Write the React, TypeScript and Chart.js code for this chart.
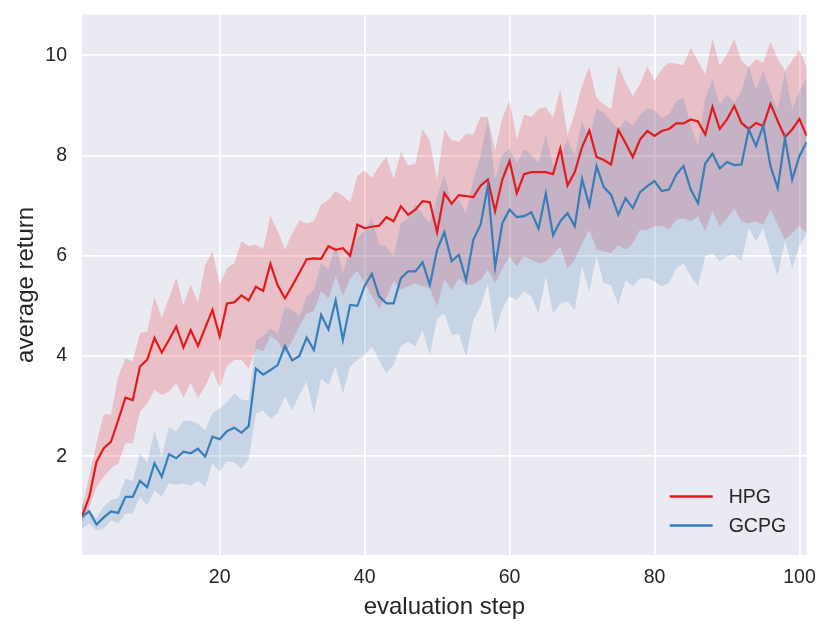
import { useEffect, useRef } from "react"
import { Chart, registerables } from "chart.js"

Chart.register(...registerables)

// evaluation steps 1..101
const steps = Array.from({ length: 101 }, (_, i) => i + 1)

const hpgMean = [
  0.8, 1.19, 1.89, 2.16, 2.29, 2.72, 3.17, 3.12, 3.79, 3.93,
  4.36, 4.07, 4.32, 4.59, 4.17, 4.52, 4.2, 4.56, 4.92, 4.39,
  5.05, 5.07, 5.21, 5.11, 5.38, 5.3, 5.84, 5.41, 5.15, 5.4,
  5.66, 5.93, 5.95, 5.94, 6.19, 6.12, 6.15, 6.0, 6.62, 6.55,
  6.58, 6.6, 6.77, 6.69, 6.99, 6.82, 6.92, 7.09, 7.07, 6.47,
  7.25, 7.04, 7.21, 7.19, 7.17, 7.4, 7.52, 6.89, 7.52, 7.89,
  7.25, 7.63, 7.67, 7.67, 7.67, 7.63, 8.14, 7.4, 7.67, 8.17,
  8.5, 7.97, 7.91, 7.82, 8.51, 8.25, 7.97, 8.32, 8.49, 8.39,
  8.49, 8.53, 8.64, 8.64, 8.72, 8.68, 8.42, 8.97, 8.53, 8.72,
  8.99, 8.65, 8.53, 8.65, 8.59, 9.03, 8.69, 8.37, 8.52, 8.73,
  8.39,
]
const hpgUpper = [
  0.99, 1.59, 2.26, 2.84, 2.84, 3.59, 3.96, 3.89, 4.46, 4.49,
  5.19, 4.76, 5.16, 5.56, 5.02, 5.42, 5.06, 5.82, 6.09, 5.42,
  5.75, 5.85, 6.29, 6.19, 6.22, 6.14, 6.8, 6.5, 6.13, 6.45,
  6.71, 6.65, 6.69, 7.02, 7.12, 7.29, 7.2, 7.07, 7.59, 7.7,
  7.55, 7.79, 7.97, 7.53, 8.07, 7.8, 7.84, 8.53, 8.29, 7.52,
  8.52, 8.31, 8.27, 8.44, 8.42, 8.77, 8.77, 8.09, 8.75, 9.1,
  8.32, 8.82, 8.77, 8.93, 8.97, 8.75, 9.33, 8.4, 8.85, 9.39,
  9.77, 9.15, 9.02, 8.92, 9.8, 9.45, 9.19, 9.42, 9.77, 9.5,
  9.73, 9.85, 9.83, 9.8, 10.15, 9.89, 9.62, 10.32, 9.79, 10.02,
  10.32, 9.89, 9.75, 9.92, 9.85, 10.27, 9.92, 9.69, 9.89, 10.11,
  9.75,
]
const hpgLower = [
  0.66, 0.99, 1.39, 1.59, 1.76, 1.86, 2.26, 2.26, 2.89, 3.06,
  3.32, 3.22, 3.29, 3.46, 3.16, 3.46, 3.16, 3.39, 3.72, 3.36,
  3.8, 3.92, 3.92, 3.75, 4.15, 4.1, 4.4, 4.3, 4.05, 4.3,
  4.6, 4.85, 4.9, 5.3, 5.15, 5.6, 5.2, 5.55, 5.7, 5.45,
  5.2, 4.95, 5.17, 5.49, 5.32, 5.39, 5.45, 5.39, 5.35, 4.99,
  5.52, 5.32, 5.55, 5.42, 5.42, 5.52, 5.72, 5.45, 5.75, 5.99,
  5.79, 5.99, 5.92, 5.85, 5.89, 6.02, 6.19, 5.75, 5.92, 6.25,
  6.52, 6.12, 6.09, 6.05, 6.22, 6.12, 6.25, 6.52, 6.52, 6.59,
  6.59, 6.52, 6.72, 6.75, 6.69, 6.79, 6.49, 6.89, 6.59, 6.75,
  6.95, 6.69, 6.65, 6.69, 6.62, 6.92, 6.62, 6.32, 6.45, 6.59,
  6.45,
]

const gcpgMean = [
  0.79, 0.9, 0.64, 0.78, 0.9, 0.87, 1.19, 1.19, 1.51, 1.38,
  1.86, 1.59, 2.04, 1.96, 2.09, 2.06, 2.15, 1.99, 2.39, 2.34,
  2.5, 2.57, 2.47, 2.6, 3.75, 3.63, 3.72, 3.82, 4.2, 3.91,
  4.0, 4.37, 4.12, 4.82, 4.53, 5.11, 4.32, 5.02, 5.0, 5.4,
  5.64, 5.19, 5.05, 5.05, 5.55, 5.69, 5.69, 5.87, 5.42, 6.12,
  6.47, 5.89, 6.02, 5.51, 6.32, 6.62, 7.39, 5.77, 6.65, 6.92,
  6.77, 6.79, 6.87, 6.54, 7.24, 6.41, 6.69, 6.85, 6.59, 7.53,
  7.0, 7.79, 7.37, 7.22, 6.82, 7.15, 6.95, 7.27, 7.39, 7.49,
  7.29, 7.32, 7.62, 7.79, 7.32, 7.05, 7.84, 8.04, 7.74, 7.87,
  7.81, 7.82, 8.52, 8.19, 8.6, 7.79, 7.35, 8.35, 7.52, 7.99,
  8.27,
]
const gcpgUpper = [
  1.06, 0.93, 0.77, 1.0, 1.13, 1.16, 1.56, 1.5, 2.07, 1.86,
  2.52, 1.99, 2.59, 2.49, 2.71, 2.71, 2.65, 2.52, 2.86, 2.96,
  3.08, 3.25, 3.13, 3.12, 4.32, 4.39, 4.55, 4.45, 4.99, 4.92,
  4.79, 5.19, 5.32, 5.85, 5.72, 6.22, 5.65, 6.12, 6.35, 6.5,
  6.75, 6.22, 6.19, 5.99, 6.65, 6.75, 7.05, 6.82, 6.65, 7.19,
  7.62, 7.05, 7.12, 6.85, 7.52, 7.99, 8.73, 7.52, 8.02, 8.14,
  7.85, 8.12, 8.02, 7.85, 8.42, 7.79, 7.99, 8.32, 7.99, 8.69,
  8.32, 8.95, 8.85, 8.69, 8.52, 8.72, 8.59, 8.82, 8.95, 8.9,
  8.75, 8.82, 9.09, 9.15, 8.59, 8.19, 9.15, 9.52, 9.02, 9.22,
  9.05, 9.29, 9.79, 9.32, 9.69, 9.29, 8.92, 9.69, 8.92, 9.29,
  9.55,
]
const gcpgLower = [
  0.56, 0.66, 0.52, 0.56, 0.72, 0.66, 0.86, 0.86, 1.19, 1.02,
  1.32, 1.19, 1.46, 1.43, 1.46, 1.41, 1.51, 1.39, 1.86, 1.69,
  1.9, 1.88, 1.75, 1.95, 2.85, 2.92, 2.75, 2.86, 3.19, 2.92,
  3.22, 3.49, 2.86, 3.55, 3.42, 3.79, 3.25, 3.79, 3.92, 4.02,
  4.19, 3.92, 3.65, 3.82, 4.19, 4.29, 4.19, 4.52, 4.02, 4.75,
  4.85, 4.42, 4.45, 3.99, 4.72, 4.99, 5.45, 4.45, 4.95, 5.19,
  5.12, 5.29, 5.19, 4.85, 5.59, 4.85, 5.05, 5.09, 4.92, 5.79,
  5.29, 5.99, 5.45, 5.42, 5.02, 5.52, 5.39, 5.55, 5.55, 5.49,
  5.39, 5.45, 5.75, 5.85, 5.59, 5.39, 5.99, 6.05, 5.89, 5.99,
  6.02, 5.89, 6.55, 6.29, 6.55, 6.05, 5.59, 6.32, 5.75, 6.19,
  6.45,
]

const xTicks = [20, 40, 60, 80, 100]
const yTicks = [2, 4, 6, 8, 10]

const RED = "#e41a1c"
const BLUE = "#377eb8"
const TEXT = "#262626"
const FONT = "'Liberation Sans', Arial, sans-serif"

const pts = (ys: number[]) => ys.map((y, i) => ({ x: steps[i], y }))

// seaborn-like grey plot background
const bgPlugin = {
  id: "plotBg",
  beforeDraw(chart: any) {
    const { ctx, chartArea } = chart
    ctx.save()
    ctx.fillStyle = "#eaeaf2"
    ctx.fillRect(chartArea.left, chartArea.top, chartArea.right - chartArea.left, chartArea.bottom - chartArea.top)
    ctx.restore()
  },
}

// legend drawn inside the plot, lower right
const insideLegend = {
  id: "insideLegend",
  afterDraw(chart: any) {
    const { ctx, chartArea } = chart
    const items = chart.data.datasets.filter((d: any) => d.label)
    ctx.save()
    ctx.font = `19.5px ${FONT}`
    ctx.textBaseline = "middle"
    ctx.textAlign = "left"
    items.forEach((d: any, i: number) => {
      const y = chartArea.bottom - 58.5 + i * 29
      ctx.strokeStyle = d.borderColor
      ctx.lineWidth = 2.6
      ctx.beginPath()
      ctx.moveTo(chartArea.right - 137, y)
      ctx.lineTo(chartArea.right - 94, y)
      ctx.stroke()
      ctx.fillStyle = TEXT
      ctx.fillText(d.label, chartArea.right - 78, y + 1)
    })
    ctx.restore()
  },
}

export default function App() {
  const chartRef = useRef<HTMLCanvasElement>(null)
  const chartInstance = useRef<Chart | null>(null)

  useEffect(() => {
    if (!chartRef.current) return
    if (chartInstance.current) chartInstance.current.destroy()
    const ctx = chartRef.current.getContext("2d")
    if (!ctx) return

    const band = { borderWidth: 0, pointRadius: 0, tension: 0 }
    const line = { borderWidth: 2.2, pointRadius: 0, tension: 0, fill: false }

    // lines above both bands (lower order is drawn on top)
    const config: any = {
      type: "line",
      data: {
        datasets: [
          { ...line, label: "HPG", data: pts(hpgMean), borderColor: RED, order: 2 },
          { ...band, data: pts(hpgLower), fill: false, order: 4 },
          { ...band, data: pts(hpgUpper), fill: 1, backgroundColor: "rgba(228,26,28,0.2)", order: 4 },
          { ...line, label: "GCPG", data: pts(gcpgMean), borderColor: BLUE, order: 1 },
          { ...band, data: pts(gcpgLower), fill: false, order: 3 },
          { ...band, data: pts(gcpgUpper), fill: 4, backgroundColor: "rgba(55,126,184,0.2)", order: 3 },
        ],
      },
      options: {
        responsive: false,
        animation: false,
        layout: { padding: { top: 14.7, right: 24.3, left: 0, bottom: 0 } },
        plugins: { legend: { display: false }, tooltip: { enabled: false } },
        scales: {
          x: {
            type: "linear",
            min: 1,
            max: 101,
            afterBuildTicks: (s: any) => { s.ticks = xTicks.map((v) => ({ value: v })) },
            afterFit: (s: any) => { s.height = 78 },
            grid: { color: "#ffffff", lineWidth: 1.8, drawTicks: true, tickLength: 11, tickColor: "rgba(0,0,0,0)" },
            border: { display: false },
            ticks: { color: TEXT, font: { size: 19.5, family: FONT }, padding: 0, maxRotation: 0 },
            title: { display: true, text: "evaluation step", color: TEXT, font: { size: 24, family: FONT, lineHeight: 1.2 }, padding: { top: 11, bottom: 11 } },
          },
          y: {
            min: 0.03,
            max: 10.81,
            afterBuildTicks: (s: any) => { s.ticks = yTicks.map((v) => ({ value: v })) },
            afterFit: (s: any) => { s.width = 82 },
            grid: { color: "#ffffff", lineWidth: 1.8, drawTicks: true, tickLength: 15, tickColor: "rgba(0,0,0,0)" },
            border: { display: false },
            ticks: { color: TEXT, font: { size: 19.5, family: FONT }, padding: 0 },
            title: { display: true, text: "average return", color: TEXT, font: { size: 24, family: FONT, lineHeight: 1.2 }, padding: { top: 12, bottom: 12 } },
          },
        },
      },
      plugins: [bgPlugin, insideLegend],
    }

    chartInstance.current = new Chart(ctx, config)
    return () => {
      if (chartInstance.current) {
        chartInstance.current.destroy()
        chartInstance.current = null
      }
    }
  }, [])

  return (
    <div style={{ position: "absolute", left: 0, top: 0, width: 831, height: 633, background: "#fff" }}>
      <canvas ref={chartRef} width={831} height={633} style={{ display: "block" }} />
    </div>
  )
}
